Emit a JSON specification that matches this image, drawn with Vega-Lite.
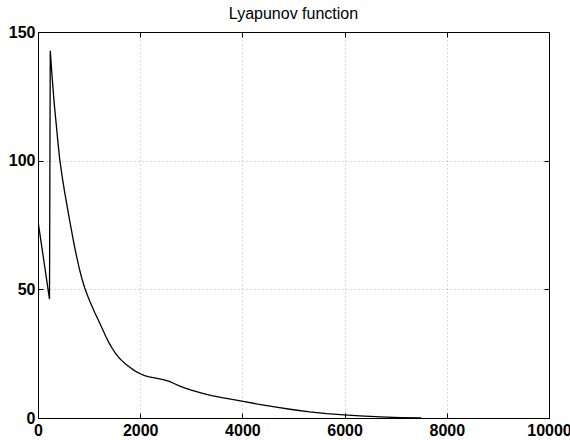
{
  "$schema": "https://vega.github.io/schema/vega-lite/v6.json",
  "autosize": {"type": "none"},
  "padding": {"left": 38, "top": 32, "right": 21, "bottom": 22},
  "width": 511,
  "height": 386,
  "background": "white",
  "title": {"text": "Lyapunov function", "font": "Liberation Sans", "fontSize": 16, "fontWeight": "normal", "color": "black", "offset": 2},
  "config": {
    "view": {"stroke": "black", "strokeWidth": 1},
    "axis": {
      "domainColor": "black",
      "tickColor": "black",
      "tickSize": -5,
      "labelFont": "Liberation Sans",
      "labelFontSize": 16,
      "labelFontWeight": "bold",
      "labelColor": "black",
      "gridColor": "#b0b0b0",
      "gridDash": [1, 3],
      "labelOverlap": false,
      "labelFlush": false,
      "labelBound": false,
      "format": "d",
      "title": null
    }
  },
  "data": {
    "values": [
      {"x": 0, "y": 76.5},
      {"x": 225, "y": 46.2},
      {"x": 240, "y": 142.7},
      {"x": 265, "y": 135.5},
      {"x": 290, "y": 129},
      {"x": 320, "y": 121.7},
      {"x": 356, "y": 114.3},
      {"x": 390, "y": 107.2},
      {"x": 421, "y": 101.2},
      {"x": 470, "y": 94.2},
      {"x": 520, "y": 88},
      {"x": 570, "y": 82.3},
      {"x": 617, "y": 77},
      {"x": 665, "y": 71.8},
      {"x": 715, "y": 66.6},
      {"x": 765, "y": 61.9},
      {"x": 813, "y": 57.7},
      {"x": 860, "y": 54.1},
      {"x": 910, "y": 50.8},
      {"x": 965, "y": 47.8},
      {"x": 1020, "y": 45.1},
      {"x": 1110, "y": 41.0},
      {"x": 1205, "y": 37.0},
      {"x": 1270, "y": 34.2},
      {"x": 1330, "y": 31.6},
      {"x": 1390, "y": 29.2},
      {"x": 1457, "y": 26.9},
      {"x": 1520, "y": 25.0},
      {"x": 1590, "y": 23.3},
      {"x": 1650, "y": 22.1},
      {"x": 1719, "y": 20.9},
      {"x": 1790, "y": 19.8},
      {"x": 1860, "y": 18.8},
      {"x": 1930, "y": 17.9},
      {"x": 2000, "y": 17.2},
      {"x": 2075, "y": 16.6},
      {"x": 2150, "y": 16.1},
      {"x": 2230, "y": 15.8},
      {"x": 2307, "y": 15.5},
      {"x": 2450, "y": 14.9},
      {"x": 2569, "y": 14.2},
      {"x": 2650, "y": 13.5},
      {"x": 2765, "y": 12.5},
      {"x": 2880, "y": 11.6},
      {"x": 3000, "y": 10.8},
      {"x": 3222, "y": 9.6},
      {"x": 3400, "y": 8.7},
      {"x": 3600, "y": 7.9},
      {"x": 3800, "y": 7.2},
      {"x": 3986, "y": 6.6},
      {"x": 4300, "y": 5.4},
      {"x": 4660, "y": 4.2},
      {"x": 5000, "y": 3.2},
      {"x": 5314, "y": 2.4},
      {"x": 5650, "y": 1.7},
      {"x": 5987, "y": 1.2},
      {"x": 6300, "y": 0.8},
      {"x": 6700, "y": 0.4},
      {"x": 7100, "y": 0.15},
      {"x": 7500, "y": 0}
    ]
  },
  "layer": [
    {
      "mark": {"type": "line", "color": "black", "strokeWidth": 1.3, "clip": true},
      "encoding": {
        "x": {"field": "x", "type": "quantitative", "scale": {"domain": [0, 10000], "nice": false},
              "axis": {"orient": "bottom", "values": [0, 2000, 4000, 6000, 8000, 10000], "labelPadding": 9, "grid": true}},
        "y": {"field": "y", "type": "quantitative", "scale": {"domain": [0, 150], "nice": false},
              "axis": {"orient": "left", "values": [0, 50, 100, 150], "labelPadding": 8, "grid": true}}
      }
    },
    {
      "mark": {"type": "line", "opacity": 0},
      "encoding": {
        "x": {"field": "x", "type": "quantitative",
              "axis": {"orient": "top", "values": [0, 2000, 4000, 6000, 8000, 10000], "labels": false, "grid": false}},
        "y": {"field": "y", "type": "quantitative",
              "axis": {"orient": "right", "values": [0, 50, 100, 150], "labels": false, "grid": false}}
      }
    }
  ],
  "resolve": {"axis": {"x": "independent", "y": "independent"}}
}
